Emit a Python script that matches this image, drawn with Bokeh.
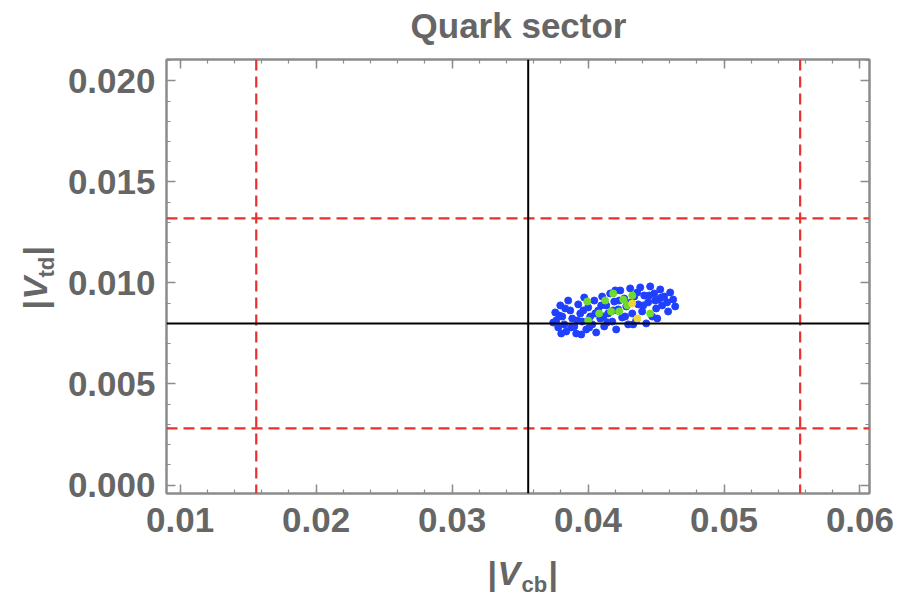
import math
from bokeh.plotting import figure
from bokeh.layouts import row, column
from bokeh.models import Range1d, Span, LinearAxis, PrintfTickFormatter, CustomJSTickFormatter, FixedTicker
from bokeh.core.properties import value
from bokeh.embed import file_html
from bokeh.resources import INLINE

title_text = "Quark sector"

# axis extents and ticks
x_min, x_max = 0.0090, 0.0607
y_min, y_max = -0.00042, 0.02106
x_ticks = [0.01, 0.02, 0.03, 0.04, 0.05, 0.06]
y_ticks = [0.000, 0.005, 0.010, 0.015, 0.020]

# experimental central values and bounds
vcb_central = 0.0356
vcb_bounds = [0.0156, 0.0556]
vtd_central = 0.0080
vtd_bounds = [0.0028, 0.0132]

# scan points
blue_vcb = [0.03759, 0.03766, 0.03781, 0.03796, 0.03810, 0.03825, 0.03840, 0.03854, 0.03869, 0.03884,
            0.03899, 0.03913, 0.03928, 0.03943, 0.03957, 0.03972, 0.03987, 0.04001, 0.04016, 0.04031,
            0.04046, 0.04060, 0.04075, 0.04090, 0.04104, 0.04119, 0.04134, 0.04148, 0.04163, 0.04178,
            0.04193, 0.04207, 0.04222, 0.04237, 0.04251, 0.04266, 0.04281, 0.04295, 0.04310, 0.04325,
            0.04340, 0.04354, 0.04369, 0.04384, 0.04398, 0.04413, 0.04428, 0.04442, 0.04457, 0.04472,
            0.04487, 0.04501, 0.04516, 0.04531, 0.04545, 0.04560, 0.04582, 0.04604, 0.04626, 0.04641,
            0.04589, 0.04509, 0.03788, 0.03832, 0.03876, 0.03921, 0.03965, 0.04009, 0.04053, 0.04097,
            0.04141, 0.04185, 0.04229, 0.04273, 0.04317, 0.04362, 0.04406, 0.04450, 0.04494, 0.04538,
            0.03744, 0.03803, 0.03950, 0.04112, 0.04200, 0.04332]
blue_vtd = [0.00854, 0.00814, 0.00780, 0.00889, 0.00834, 0.00795, 0.00760, 0.00913, 0.00864, 0.00824,
            0.00785, 0.00750, 0.00894, 0.00849, 0.00809, 0.00928, 0.00770, 0.00879, 0.00834, 0.00795,
            0.00913, 0.00755, 0.00864, 0.00824, 0.00933, 0.00785, 0.00889, 0.00849, 0.00948, 0.00809,
            0.00908, 0.00770, 0.00869, 0.00963, 0.00829, 0.00923, 0.00884, 0.00795, 0.00973, 0.00849,
            0.00933, 0.00814, 0.00894, 0.00978, 0.00859, 0.00938, 0.00800, 0.00904, 0.00983, 0.00834,
            0.00948, 0.00874, 0.00918, 0.00968, 0.00889, 0.00933, 0.00904, 0.00953, 0.00918, 0.00884,
            0.00859, 0.00824, 0.00839, 0.00874, 0.00780, 0.00814, 0.00864, 0.00780, 0.00849, 0.00889,
            0.00805, 0.00864, 0.00913, 0.00834, 0.00904, 0.00953, 0.00889, 0.00938, 0.00913, 0.00928,
            0.00804, 0.00750, 0.00745, 0.00834, 0.00963, 0.00795]
green_vcb = [0.03994, 0.04001, 0.04082, 0.04170, 0.04185, 0.04229, 0.04259, 0.04288, 0.04325, 0.04457, 0.04126]
green_vtd = [0.00908, 0.00814, 0.00849, 0.00859, 0.00948, 0.00859, 0.00918, 0.00889, 0.00938, 0.00849, 0.00913]
yellow_vcb = [0.04325, 0.04362]
yellow_vtd = [0.00899, 0.00824]

GRAY = "#8c8c8c"
TXT = "#666666"
FONT = "Liberation Sans"

W, H = 904, 599
YLAB_W = 64
TITLE_H = 50
P_H = 501          # main figure height (below the title strip)
FRAME_TOP, FRAME_BOTTOM = 59, 493   # page pixels
FRAME_LEFT, FRAME_RIGHT = 166, 869

p = figure(width=W - YLAB_W, height=P_H,
           x_range=Range1d(x_min, x_max), y_range=Range1d(y_min, y_max),
           output_backend="svg", toolbar_location=None,
           min_border_left=FRAME_LEFT - YLAB_W, min_border_right=W - FRAME_RIGHT,
           min_border_top=FRAME_TOP - TITLE_H,
           min_border_bottom=TITLE_H + P_H - FRAME_BOTTOM,
           x_axis_location=None, y_axis_location=None)
p.grid.visible = False
p.outline_line_color = GRAY
p.outline_line_width = 2
p.background_fill_color = "white"
p.border_fill_color = "white"

x_minor = [round(0.01 + 0.002 * i, 4) for i in range(-1, 27)]
y_minor = [round(0.001 * i, 4) for i in range(0, 22)]


def style(ax, ticks, minor, fmt, show):
    ax.ticker = FixedTicker(ticks=ticks, minor_ticks=minor)
    ax.axis_line_color = GRAY
    ax.axis_line_width = 2
    ax.major_tick_in = 9
    ax.major_tick_out = 0
    ax.minor_tick_in = 4
    ax.minor_tick_out = 0
    ax.major_tick_line_color = GRAY
    ax.minor_tick_line_color = GRAY
    ax.major_tick_line_width = 1.5
    ax.minor_tick_line_width = 1.2
    if show:
        ax.formatter = PrintfTickFormatter(format=fmt)
        ax.major_label_text_font = FONT
        ax.major_label_text_font_style = "bold"
        ax.major_label_text_font_size = "35px"
        ax.major_label_text_color = TXT
    else:
        ax.formatter = CustomJSTickFormatter(code="return ''")
        ax.major_label_text_font_size = "1px"


xb = LinearAxis()
style(xb, x_ticks, x_minor, "%.2f", True)
xb.major_label_standoff = 14
p.add_layout(xb, "below")
xt = LinearAxis()
style(xt, x_ticks, x_minor, "", False)
xt.major_label_standoff = 0
p.add_layout(xt, "above")
yl = LinearAxis()
style(yl, y_ticks, y_minor, "%.3f", True)
yl.major_label_standoff = 11
p.add_layout(yl, "left")
yr = LinearAxis()
style(yr, y_ticks, y_minor, "", False)
yr.major_label_standoff = 0
p.add_layout(yr, "right")

p.scatter(blue_vcb, blue_vtd, size=7, color="#2040ff", line_color="#2040ff")
p.scatter(green_vcb, green_vtd, size=7, color="#6fdc2c", line_color="#6fdc2c")
p.scatter(yellow_vcb, yellow_vtd, size=7, color="#f0d43a", line_color="#f0d43a")

for b in vcb_bounds:
    p.add_layout(Span(location=b, dimension="height", line_color="#e8312f", line_width=2.2, line_dash="11 6"))
for b in vtd_bounds:
    p.add_layout(Span(location=b, dimension="width", line_color="#e8312f", line_width=2.2, line_dash="11 6"))
p.add_layout(Span(location=vcb_central, dimension="height", line_color="black", line_width=2))
p.add_layout(Span(location=vtd_central, dimension="width", line_color="black", line_width=2))


def bare_fig(w, h, xr, yr, bl=0, br=0, bt=0, bb=0):
    f = figure(width=w, height=h, x_range=xr, y_range=yr, output_backend="svg",
               toolbar_location=None, x_axis_location=None, y_axis_location=None,
               min_border_left=bl, min_border_right=br, min_border_top=bt, min_border_bottom=bb)
    f.grid.visible = False
    f.outline_line_color = None
    f.background_fill_color = "white"
    f.border_fill_color = "white"
    return f


def add_text(f, x, y, t, size, style="bold", angle=0.0, align="left"):
    f.text(x=[x], y=[y], text=[t], text_font=value(FONT), text_font_style=value(style),
           text_font_size=value(size), text_color=TXT, text_align=value(align),
           text_baseline=value("bottom"), angle=angle)


# title strip (positions in page pixels)
tfig = bare_fig(W, TITLE_H, Range1d(0, W), Range1d(TITLE_H, 0))
add_text(tfig, 518, 44, title_text, "35px", align="center")

# y-axis label |V_td| (positions in page pixels; text bottom edge faces right)
ylab = bare_fig(YLAB_W, P_H, Range1d(0, YLAB_W), Range1d(FRAME_BOTTOM, FRAME_TOP),
                bt=FRAME_TOP - TITLE_H, bb=TITLE_H + P_H - FRAME_BOTTOM)
a = math.pi / 2
add_text(ylab, 53, 309, "|", "34px", angle=a)
add_text(ylab, 53, 299, "V", "34px", style="bold italic", angle=a)
add_text(ylab, 58, 277, "td", "22px", angle=a)
add_text(ylab, 53, 255, "|", "34px", angle=a)

# x-axis label |V_cb| (positions in page pixels)
XLAB_TOP = TITLE_H + P_H
xlab = bare_fig(W, H - XLAB_TOP, Range1d(0, W), Range1d(H, XLAB_TOP))
add_text(xlab, 487, 591, "|", "34px")
add_text(xlab, 497, 591, "V", "34px", style="bold italic")
add_text(xlab, 521, 596, "cb", "22px")
add_text(xlab, 548, 591, "|", "34px")

layout = column(tfig, row(ylab, p, spacing=0), xlab, spacing=0)

open("out.html", "w").write(file_html(layout, INLINE))
